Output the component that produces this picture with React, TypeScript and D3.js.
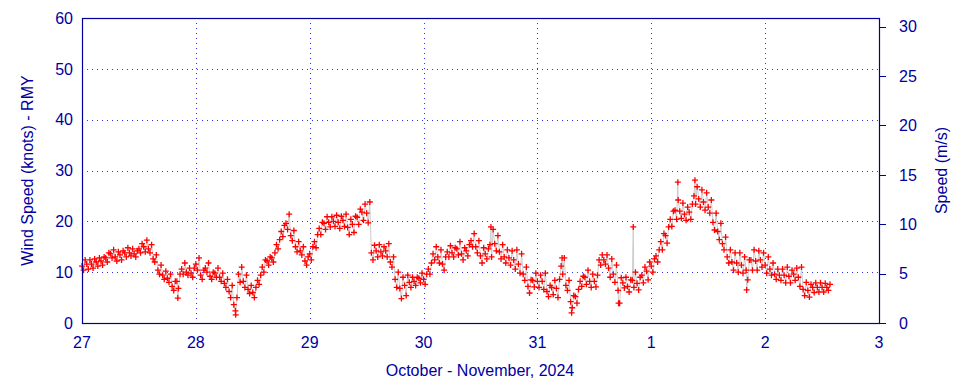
import React from 'react';
import * as d3 from 'd3';

// hourly readings of the wind speed (knots):
// low edge, typical value and high edge of the trace in each hour
const day27Lo = [10.4, 10.6, 10.8, 11.2, 11.4, 12, 12.8, 12.2, 12.4, 13, 13.2, 13, 13.8, 14, 13.8, 12, 9.6, 8.6, 8, 6.4, 6.8, 9.6, 9.4, 9];
const day27Mid = [11.2, 11.6, 11.6, 12, 12.2, 12.8, 13.6, 13, 13.4, 13.8, 13.8, 13.6, 14.6, 15, 14.6, 12.6, 10.4, 9.4, 8.8, 7.2, 8.2, 10.6, 10, 9.8];
const day27Hi = [12.4, 12.4, 12.6, 12.8, 13, 13.8, 14.4, 14, 14.2, 14.8, 14.6, 14.2, 15.6, 16.3, 15.4, 13.4, 11.4, 10.2, 9.6, 8.2, 9.6, 11.8, 10.8, 10.8];
const day28Lo = [10.4, 8.6, 10, 8.6, 9, 8.2, 7, 5, 2.4, 8, 7, 5.8, 5, 7.6, 10, 11.4, 12, 14.6, 17, 18.4, 16.2, 14, 13.4, 11.4];
const day28Mid = [11.6, 9.4, 10.8, 9.2, 9.8, 9, 7.8, 6.2, 3.6, 9.6, 8.2, 6.6, 6, 8.4, 11, 12.2, 12.8, 15.4, 18, 19.6, 17.2, 15, 14.2, 12.2];
const day28Hi = [12.8, 10.4, 11.8, 10, 10.8, 9.8, 8.6, 7.4, 5, 11, 9.4, 7.4, 7, 9.4, 12.4, 13, 13.8, 16.4, 19.2, 21.4, 18.2, 16, 15, 13];
const day29Lo = [12.4, 14.8, 17.4, 18.4, 18.9, 19, 18.6, 19, 17.4, 17.8, 19.4, 20.2, 19.7, 12.4, 13, 13.2, 13, 11, 7, 4.8, 5.4, 7, 7.4, 7.9];
const day29Mid = [13.6, 16, 18.6, 19.6, 19.8, 20, 19.8, 20.2, 18.8, 19.4, 20.8, 21.8, 21.6, 13.8, 14.2, 14, 14.2, 12, 8.6, 6.8, 7.4, 8, 8.2, 8.8];
const day29Hi = [15, 17.4, 19.8, 20.9, 20.9, 21.2, 21, 21.4, 20.4, 21, 22.4, 23.4, 23.8, 15.3, 15.4, 15, 15.6, 13, 10, 9, 9.4, 9, 9, 9.8];
const day30Lo = [7.6, 9.6, 12.4, 11.8, 10.4, 13, 13, 13.4, 12.4, 13.2, 15, 13.8, 11.8, 12.6, 13, 14.2, 12.6, 11.8, 11.4, 10.6, 9.8, 8.4, 5.9, 7.1];
const day30Mid = [8.6, 10.6, 13.6, 13, 11.6, 14, 13.8, 14.6, 13.6, 14.2, 16.2, 15, 13.2, 13.6, 15.4, 15.6, 14, 13, 12.8, 12.4, 11.6, 9.6, 7.2, 8.4];
const day30Hi = [9.6, 11.8, 15, 14.4, 13, 15.2, 14.8, 16, 14.8, 15.4, 17.6, 16.2, 14.8, 14.6, 18.4, 17.2, 15.4, 14.4, 14.2, 14.4, 13.6, 11, 8.5, 9.8];
const day31Lo = [7, 6.6, 5.2, 5.6, 5, 9.6, 6.4, 3, 3.9, 7.2, 7.6, 7, 7.1, 11.4, 11.6, 9, 8, 3.9, 6.9, 6.1, 7, 6.5, 7.9, 8.5];
const day31Mid = [8.2, 8.2, 6.2, 7, 6.8, 11.2, 7.4, 4.2, 5.2, 8.2, 9, 8.2, 8.2, 12.4, 12.4, 10.8, 9.6, 6.4, 7.9, 7.2, 8.4, 7.8, 9.4, 10.2];
const day31Hi = [9.4, 9.8, 7.4, 8.4, 8.6, 12.8, 8.4, 5.4, 6.6, 9.2, 10.4, 9.6, 9.4, 13.4, 13.4, 12.6, 11.4, 8.9, 9, 8.5, 10, 9, 11, 12];
const day1Lo = [10, 12, 14.4, 15.7, 19, 20.4, 20.6, 20.2, 20.4, 23.4, 22.8, 22.2, 21.6, 18.3, 16.4, 14.4, 11.8, 10.4, 10, 9.8, 8.5, 10.4, 10.4, 11];
const day1Mid = [11.2, 13.2, 16, 17.2, 20.4, 22.2, 22, 21.4, 21.8, 25, 24.4, 23.8, 22.8, 19.8, 18, 15.6, 13, 12, 11.8, 11.4, 10.4, 12.4, 12.2, 12.4];
const day1Hi = [12.6, 14.4, 17.6, 18.9, 22, 24.2, 23.6, 22.8, 23.4, 26.8, 26.2, 25.6, 24.2, 21.6, 19.6, 16.9, 14.4, 13.8, 13.8, 13, 12.4, 14.4, 14.2, 13.8];
const day2Lo = [9.8, 9.4, 8.6, 8.4, 7.9, 7.9, 8.4, 7.2, 5.4, 5.1, 6, 6.1, 6.1, 6.4];
const day2Mid = [11.4, 10.6, 9.6, 9.4, 9.4, 9.2, 9.6, 9, 6.6, 6.4, 7, 7, 7, 7];
const day2Hi = [13, 11.8, 10.6, 10.6, 11, 10.4, 10.8, 11, 8, 7.6, 7.9, 7.9, 7.8, 7.6];

// isolated spikes: [hours since Oct 27 00:00, knots]
const spikes: [number, number][] = [
  [20.2, 4.9], [32.4, 1.6], [86.2, 18.9], [101.2, 12.8], [103.2, 2.0],
  [113.1, 3.9], [116.2, 18.9], [125.6, 27.7], [129.2, 28.1], [140.1, 6.5],
];

const dayLabels = ['27', '28', '29', '30', '31', '1', '2', '3'];
const knotTicks = [0, 10, 20, 30, 40, 50, 60];
const msTicks = [0, 5, 10, 15, 20, 25, 30];

const lows = [...day27Lo, ...day28Lo, ...day29Lo, ...day30Lo, ...day31Lo, ...day1Lo, ...day2Lo];
const mids = [...day27Mid, ...day28Mid, ...day29Mid, ...day30Mid, ...day31Mid, ...day1Mid, ...day2Mid];
const highs = [...day27Hi, ...day28Hi, ...day29Hi, ...day30Hi, ...day31Hi, ...day1Hi, ...day2Hi];

const W = 960;
const H = 384;
const left = 82;
const right = 879;
const top = 18;
const bottom = 323;
const textColor = '#0000a0';
const frameColor = '#00009a';
const font = 'Liberation Sans, Arial, sans-serif';

type Pt = { t: number; v: number };

const App = () => {
  const x = d3.scaleLinear().domain([0, 7 * 24]).range([left, right]);
  const y = d3.scaleLinear().domain([0, 60]).range([bottom, top]);
  const yMs = d3.scaleLinear().domain([0, 60 * 0.514444]).range([bottom, top]);

  let pts: Pt[] = [];
  lows.forEach((lo, i) => {
    pts.push({ t: i, v: mids[i] });
    pts.push({ t: i + 1 / 3, v: lo });
    pts.push({ t: i + 2 / 3, v: highs[i] });
  });
  spikes.forEach(([t, v]) => pts.push({ t, v }));
  pts = pts.sort((a, b) => a.t - b.t);

  const line = d3
    .line<Pt>()
    .x((d) => x(d.t))
    .y((d) => y(d.v));

  const crosses = pts
    .map((d) => {
      const px = x(d.t);
      const py = y(d.v);
      return `M${px - 3},${py}h6M${px},${py - 3}v6`;
    })
    .join('');

  return (
    <svg
      width={W}
      height={H}
      style={{ position: 'absolute', left: 0, top: 0, background: '#fff' }}
      fontFamily={font}
    >
      {/* grid */}
      <g stroke="#3030ff" strokeWidth={1} strokeDasharray="1,4">
        {knotTicks.slice(1, -1).map((v) => (
          <line key={'h' + v} x1={left} x2={right} y1={Math.round(y(v)) + 0.5} y2={Math.round(y(v)) + 0.5} />
        ))}
        {dayLabels.slice(1, -1).map((_, i) => (
          <line
            key={'v' + i}
            x1={Math.round(x((i + 1) * 24)) + 0.5}
            x2={Math.round(x((i + 1) * 24)) + 0.5}
            y1={top}
            y2={bottom}
          />
        ))}
      </g>

      {/* data */}
      <path d={line(pts) || ''} fill="none" stroke="#cccccc" strokeWidth={1} />
      <path d={crosses} fill="none" stroke="#ff0000" strokeWidth={1.3} />

      {/* frame */}
      <rect x={left + 0.5} y={top + 0.5} width={right - left} height={bottom - top} fill="none" stroke={frameColor} strokeWidth={1.2} />

      {/* right ticks */}
      <g stroke={frameColor} strokeWidth={1}>
        {msTicks.map((v) => (
          <line key={v} x1={right} x2={right + 7} y1={Math.round(yMs(v)) + 0.5} y2={Math.round(yMs(v)) + 0.5} />
        ))}
      </g>

      <g fill={textColor} fontSize={16}>
        {knotTicks.map((v) => (
          <text key={v} x={73} y={y(v)} dy="0.36em" textAnchor="end">
            {v}
          </text>
        ))}
        {msTicks.map((v) => (
          <text key={v} x={899} y={yMs(v)} dy="0.36em" textAnchor="start">
            {v}
          </text>
        ))}
        {dayLabels.map((d, i) => (
          <text key={d + i} x={x(i * 24)} y={348} textAnchor="middle">
            {d}
          </text>
        ))}
        <text x={480} y={376} textAnchor="middle">
          October - November, 2024
        </text>
        <text transform={`translate(33,${(top + bottom) / 2}) rotate(-90)`} textAnchor="middle">
          Wind Speed (knots) - RMY
        </text>
        <text transform={`translate(947,${(top + bottom) / 2}) rotate(-90)`} textAnchor="middle">
          Speed (m/s)
        </text>
      </g>
    </svg>
  );
};

export default App;
